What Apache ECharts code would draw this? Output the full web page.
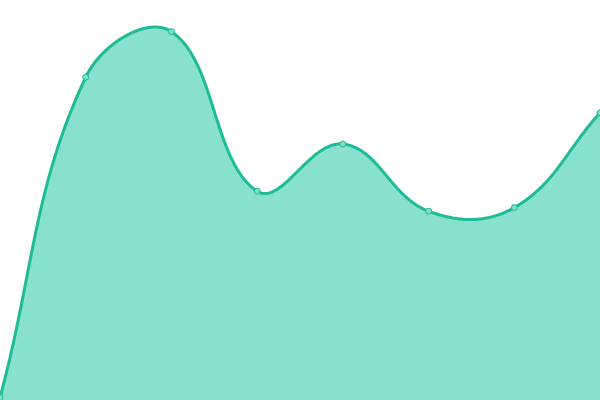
<!DOCTYPE html>
<html><head><meta charset="utf-8">
<script src="https://cdn.jsdelivr.net/npm/echarts@6/dist/echarts.min.js"></script>
<style>html,body{margin:0;padding:0;background:#fff}#c{width:600px;height:400px}</style>
</head><body><div id="c"></div>
<script>
const categories = ['A','B','C','D','E','F','G','H'];
const values = [0.6, 80.7, 92.1, 52.2, 64, 47.2, 48.1, 71.8];

const TENSION = 0.4;
function dist(a, b) { return Math.hypot(a[0] - b[0], a[1] - b[1]); }

function renderCurve(params, api) {
  if (params.dataIndex !== 0) return null;
  const pts = values.map((v, i) => api.coord([i, v]));
  const n = pts.length;
  const cps = pts.map((cur, i) => {
    const prev = i > 0 ? pts[i - 1] : cur;
    const next = i < n - 1 ? pts[i + 1] : cur;
    const d01 = dist(cur, prev), d12 = dist(next, cur);
    let s01 = d01 / (d01 + d12), s12 = d12 / (d01 + d12);
    if (isNaN(s01)) s01 = 0; if (isNaN(s12)) s12 = 0;
    const fa = TENSION * s01, fb = TENSION * s12;
    return {
      prev: [cur[0] - fa * (next[0] - prev[0]), cur[1] - fa * (next[1] - prev[1])],
      next: [cur[0] + fb * (next[0] - prev[0]), cur[1] + fb * (next[1] - prev[1])]
    };
  });
  const curve = [pts[0]];
  const STEPS = 60;
  for (let i = 0; i < n - 1; i++) {
    const p0 = pts[i], c1 = cps[i].next, c2 = cps[i + 1].prev, p1 = pts[i + 1];
    for (let k = 1; k <= STEPS; k++) {
      const t = k / STEPS, u = 1 - t;
      const a = u * u * u, b = 3 * u * u * t, c = 3 * u * t * t, d = t * t * t;
      curve.push([a * p0[0] + b * c1[0] + c * c2[0] + d * p1[0],
                  a * p0[1] + b * c1[1] + c * c2[1] + d * p1[1]]);
    }
  }
  const baseY = api.coord([0, 0])[1];
  const area = curve.concat([[pts[n - 1][0], baseY], [pts[0][0], baseY]]);
  return {
    type: 'group',
    children: [
      { type: 'polygon', shape: { points: area }, style: { fill: '#88e0cf', stroke: null } },
      { type: 'polyline', shape: { points: curve }, style: { stroke: '#1dbb96', lineWidth: 3, fill: null, lineJoin: 'round' } }
    ]
  };
}

const chart = echarts.init(document.getElementById('c'));
chart.setOption({
  animation: false,
  grid: {left: 0, right: 0, top: 0, bottom: 0},
  xAxis: {type: 'category', data: categories, boundaryGap: false, show: false},
  yAxis: {type: 'value', min: 0, max: 100, show: false},
  series: [
    { type: 'custom', data: [[0, values[0]]], renderItem: renderCurve, z: 1, silent: true },
    {
      type: 'line', data: values, z: 3,
      symbol: 'circle', symbolSize: 6, showAllSymbol: true,
      itemStyle: {color: '#7fdcc9', borderColor: '#1dbb96', borderWidth: 1},
      lineStyle: {opacity: 0, width: 0}
    }
  ]
});
</script></body></html>
